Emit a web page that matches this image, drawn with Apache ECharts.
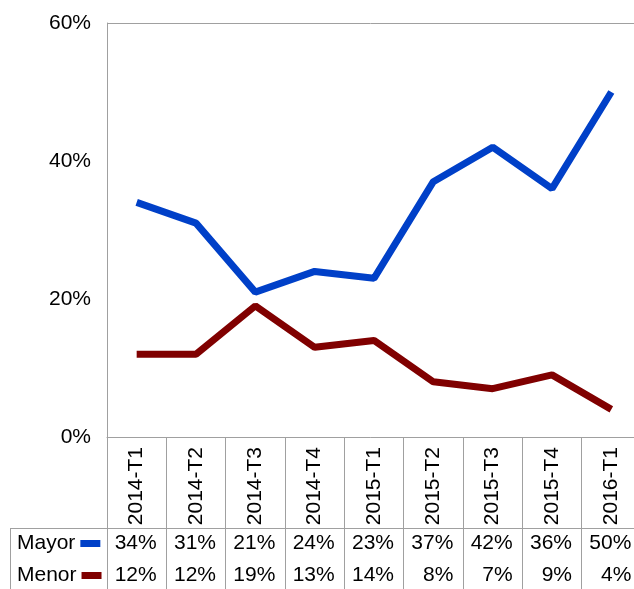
<!DOCTYPE html>
<html>
<head>
<meta charset="utf-8">
<script src="https://cdn.jsdelivr.net/npm/echarts@6/dist/echarts.min.js"></script>
<style>
  html, body { margin: 0; padding: 0; background: #fff; }
  #chart { width: 634px; height: 589px; }
</style>
</head>
<body>
<div id="chart"></div>
<script>
var categories = ['2014-T1', '2014-T2', '2014-T3', '2014-T4', '2015-T1', '2015-T2', '2015-T3', '2015-T4', '2016-T1'];
var mayor = [34, 31, 21, 24, 23, 37, 42, 36, 50];
var menor = [12, 12, 19, 13, 14, 8, 7, 9, 4];
var yTicks = [0, 20, 40, 60];

var font = 'Arial, "Liberation Sans", sans-serif';
var gridBox = { left: 107, top: 23, width: 534, height: 414, outerBoundsMode: 'none', containLabel: false };
var lineGrey = '#a0a0a0';

function tableAxis(idx, values, margin) {
	return {
		type: 'category',
		gridIndex: idx,
		data: categories,
		position: 'bottom',
		axisLine: { show: false },
		axisTick: { show: false },
		axisLabel: {
			interval: 0,
			margin: margin,
			verticalAlign: 'middle',
			color: '#000',
			fontSize: 21,
			fontFamily: font,
			formatter: function (v, i) { return '{a|' + values[i] + '%}'; },
			rich: { a: { width: 40, align: 'right', fontSize: 21, fontFamily: font, color: '#000' } }
		}
	};
}

function legendRow(name, top) {
	return {
		data: [name],
		left: 17,
		top: top,
		padding: 0,
		align: 'right',
		icon: 'rect',
		itemWidth: 20,
		itemHeight: 7,
		selectedMode: false,
		textStyle: { fontSize: 21, lineHeight: 21, color: '#000', fontFamily: font }
	};
}

var chart = echarts.init(document.getElementById('chart'));
chart.setOption({
	animation: false,
	grid: [
		Object.assign({}, gridBox),
		Object.assign({}, gridBox),
		Object.assign({}, gridBox)
	],
	legend: [legendRow('Mayor', 533), legendRow('Menor', 565)],
	xAxis: [{
		type: 'category',
		gridIndex: 0,
		data: categories,
		boundaryGap: true,
		axisLine: { show: true, lineStyle: { color: lineGrey, width: 1 } },
		axisTick: { show: true, interval: 0, length: 160, lineStyle: { color: lineGrey, width: 1 } },
		axisLabel: {
			interval: 0,
			rotate: 90,
			margin: 10,
			color: '#000',
			fontSize: 21,
			fontFamily: font
		}
	},
	tableAxis(1, mayor, 106),
	tableAxis(2, menor, 138)],
	yAxis: [{
		type: 'value',
		gridIndex: 0,
		min: yTicks[0],
		max: yTicks[yTicks.length - 1],
		interval: 20,
		axisLine: { show: true, lineStyle: { color: lineGrey, width: 1 } },
		axisTick: { show: false },
		splitLine: { show: false },
		axisLabel: {
			margin: 16,
			color: '#000',
			fontSize: 21,
			fontFamily: font,
			formatter: '{value}%'
		}
	},
	{ type: 'value', gridIndex: 1, show: false },
	{ type: 'value', gridIndex: 2, show: false }],
	graphic: [
		// plot frame top edge and data-table outline
		{ type: 'line', shape: { x1: 107, y1: 23.5, x2: 634, y2: 23.5 }, style: { stroke: lineGrey, lineWidth: 1 } },
		{ type: 'line', shape: { x1: 10, y1: 528.5, x2: 634, y2: 528.5 }, style: { stroke: lineGrey, lineWidth: 1 } },
		{ type: 'line', shape: { x1: 10.5, y1: 528, x2: 10.5, y2: 589 }, style: { stroke: lineGrey, lineWidth: 1 } }
	],
	series: [{
		name: 'Mayor',
		type: 'line',
		data: mayor,
		showSymbol: false,
		symbol: 'none',
		color: '#0040c8',
		lineStyle: { width: 7, color: '#0040c8' }
	}, {
		name: 'Menor',
		type: 'line',
		data: menor,
		showSymbol: false,
		symbol: 'none',
		color: '#800000',
		lineStyle: { width: 7, color: '#800000' }
	}]
});
</script>
</body>
</html>
